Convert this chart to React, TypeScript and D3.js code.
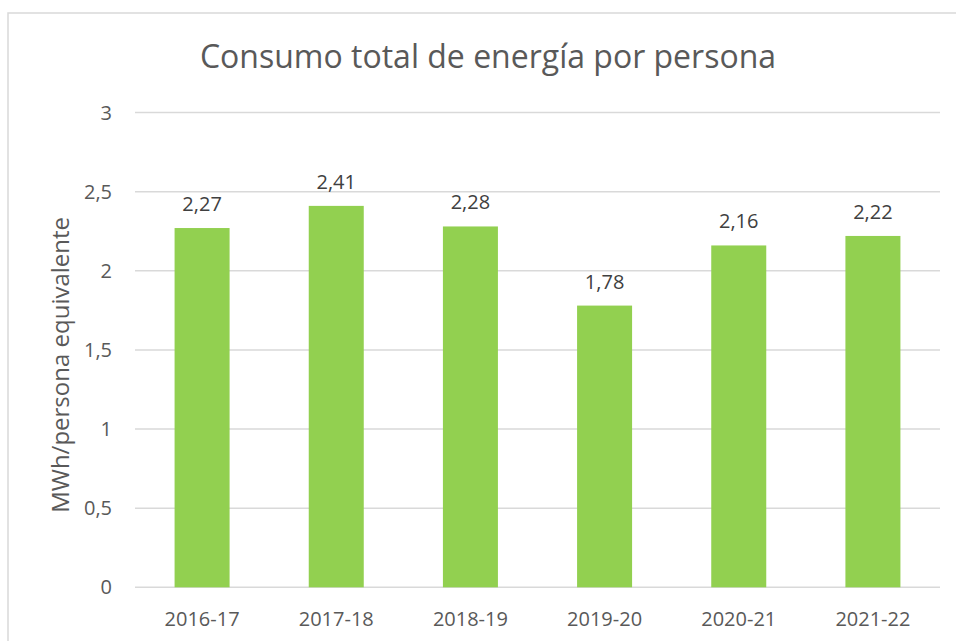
import React from "react";
import * as d3 from "d3";

const categories = ["2016-17", "2017-18", "2018-19", "2019-20", "2020-21", "2021-22"];
const values = [2.27, 2.41, 2.28, 1.78, 2.16, 2.22];
const yTicks = [0, 0.5, 1, 1.5, 2, 2.5, 3];
const title = "Consumo total de energía por persona";
const yTitle = "MWh/persona equivalente";

const W = 956;
const H = 641;
const FONT = "'Open Sans', 'Noto Sans', sans-serif";
const fmt = (v: number) => String(v).replace(".", ",");

export default function App() {
  const x = d3.scaleBand<string>().domain(categories).range([135, 940]).paddingInner(0.59).paddingOuter(0.295);
  const y = d3.scaleLinear().domain([0, 3]).range([587.3, 112.5]);

  return (
    <svg width={W} height={H} style={{ position: "absolute", left: 0, top: 0, background: "#fff" }} fontFamily={FONT}>
      <rect x={8} y={13} width={1000} height={700} fill="#fff" stroke="#d9d9d9" strokeWidth={1.5} />
      <text x={488} y={68} textAnchor="middle" fontSize={32} fill="#595959">{title}</text>
      {yTicks.map((t) => (
        <g key={t}>
          <line x1={135} x2={940} y1={y(t)} y2={y(t)} stroke="#d9d9d9" strokeWidth={1.5} />
          <text x={112} y={y(t)} dy="0.35em" textAnchor="end" fontSize={20} fill="#595959">{fmt(t)}</text>
        </g>
      ))}
      <text transform={`translate(69,${(112.5 + 587.3) / 2 + 15}) rotate(-90)`} textAnchor="middle" fontSize={24} fill="#595959">{yTitle}</text>
      {categories.map((c, i) => (
        <g key={c}>
          <rect x={x(c)} y={y(values[i])} width={x.bandwidth()} height={y(0) - y(values[i])} fill="#92d050" />
          <text x={(x(c) as number) + x.bandwidth() / 2} y={y(values[i]) - 17} textAnchor="middle" fontSize={20} fill="#404040">{fmt(values[i])}</text>
          <text x={(x(c) as number) + x.bandwidth() / 2} y={626} textAnchor="middle" fontSize={20} fill="#595959">{c}</text>
        </g>
      ))}
    </svg>
  );
}
